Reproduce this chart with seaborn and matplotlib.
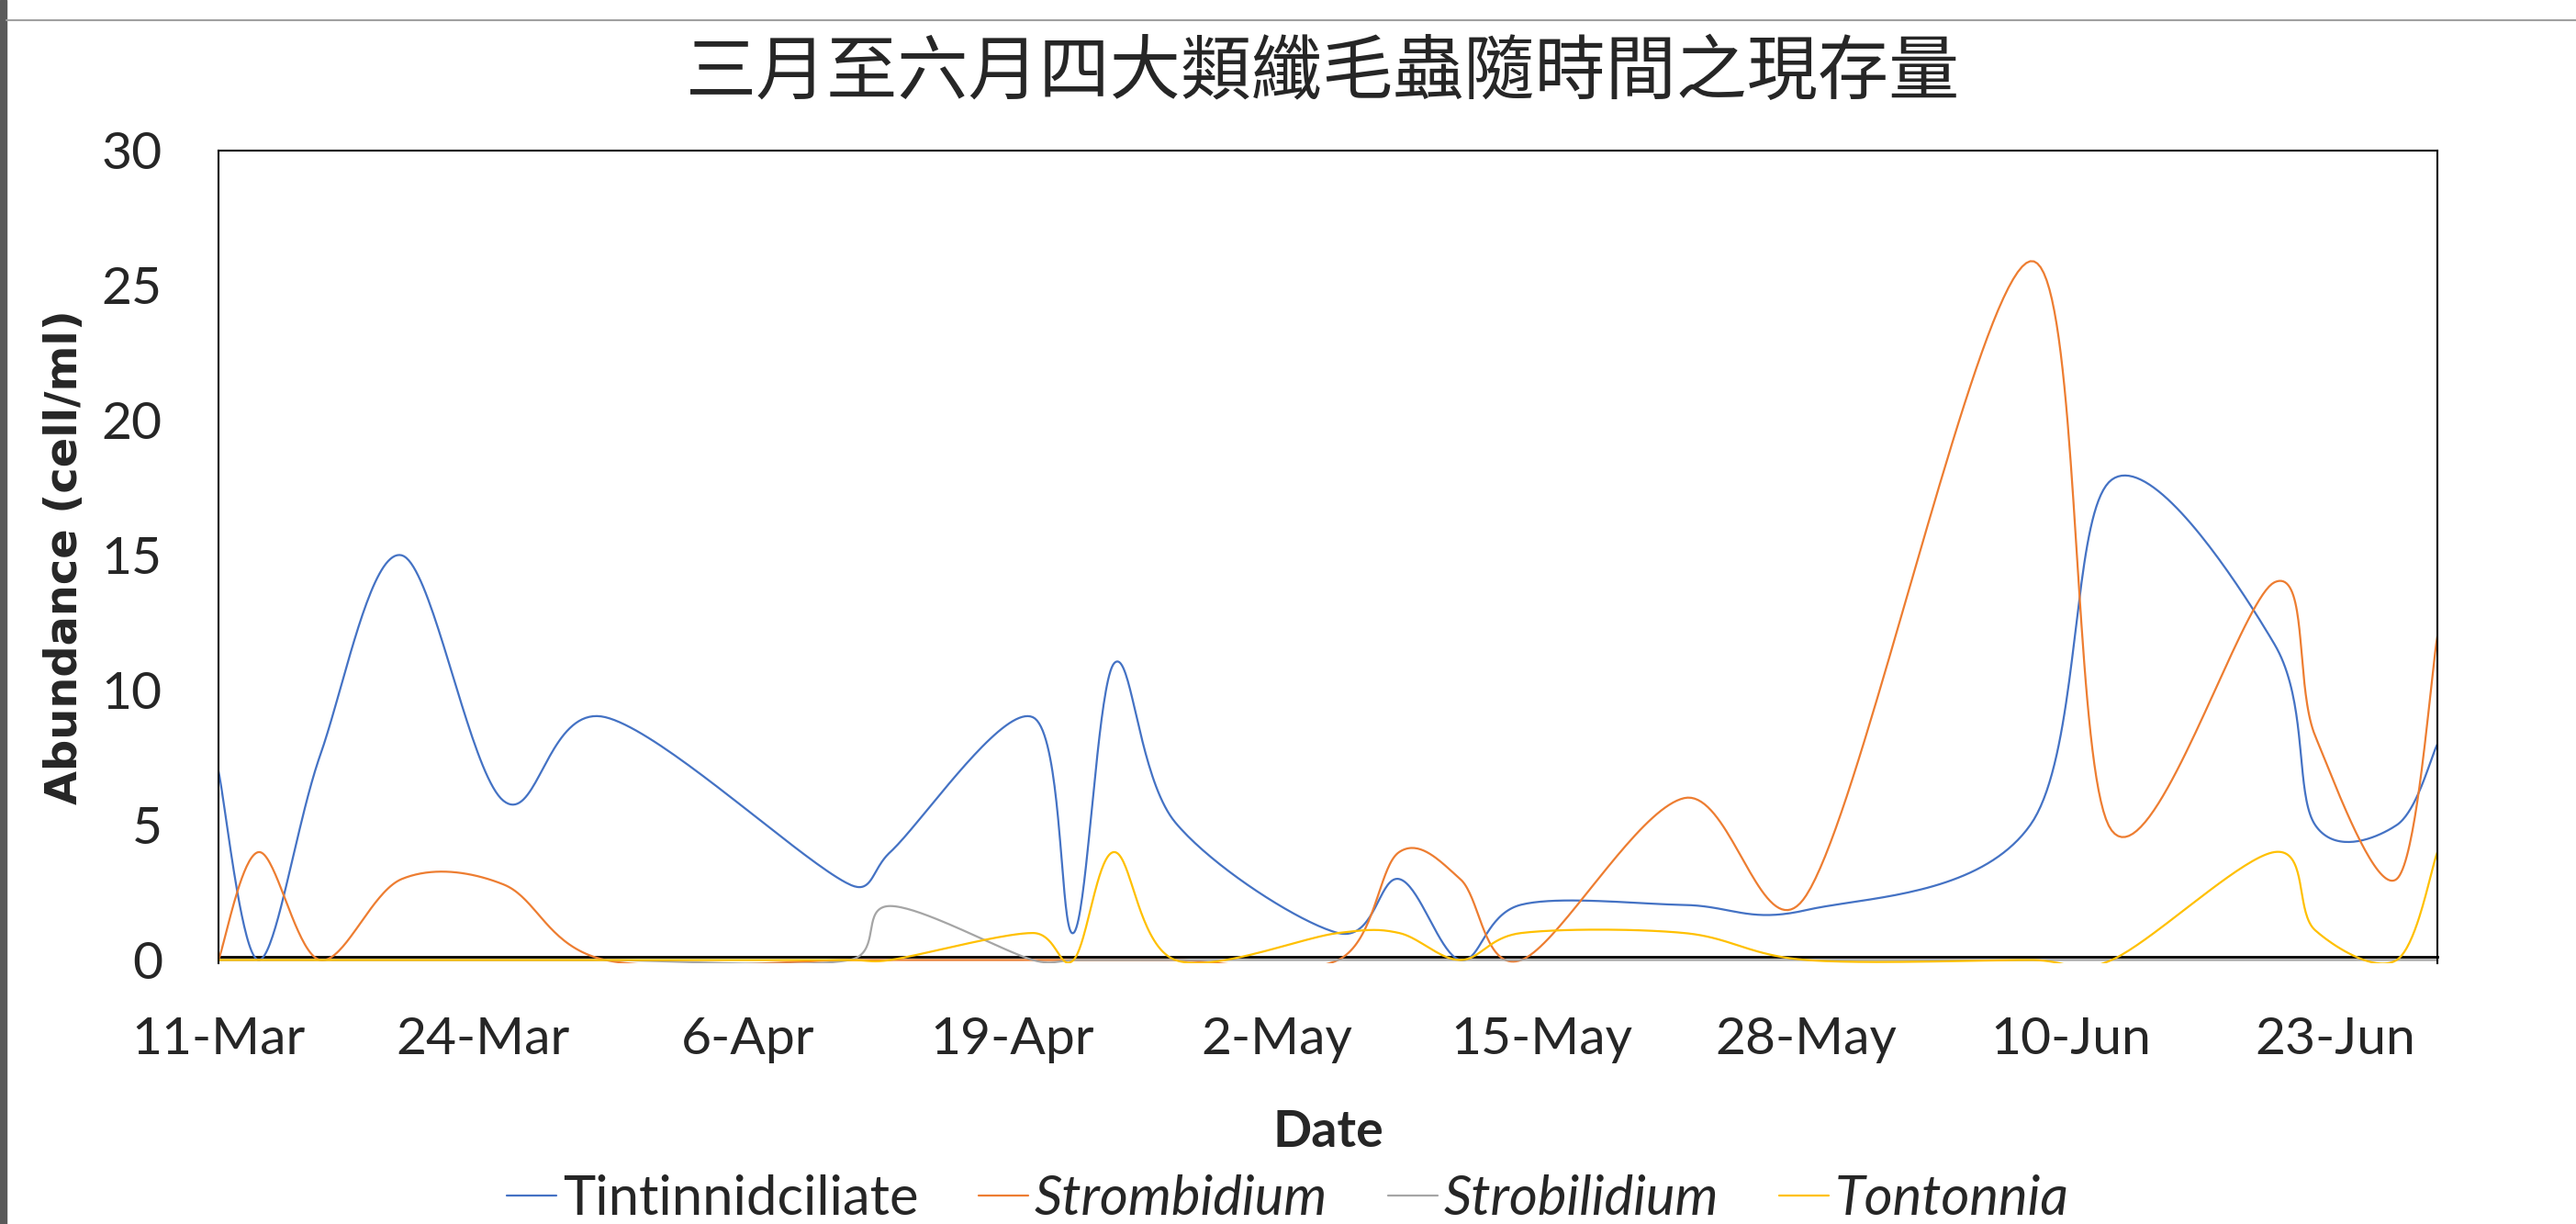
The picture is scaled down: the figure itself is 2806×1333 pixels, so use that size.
import numpy as np
import pandas as pd
import matplotlib
matplotlib.use('Agg')
import matplotlib.pyplot as plt
import matplotlib.dates as mdates
import seaborn as sns

# sampling dates and abundances (cell/ml)
dates = ['2020-03-11', '2020-03-13', '2020-03-16', '2020-03-20', '2020-03-25', '2020-03-30',
         '2020-04-11', '2020-04-13', '2020-04-20', '2020-04-22', '2020-04-24', '2020-04-27',
         '2020-05-05', '2020-05-08', '2020-05-11', '2020-05-14', '2020-05-22', '2020-05-28',
         '2020-06-08', '2020-06-12', '2020-06-20', '2020-06-22', '2020-06-26', '2020-06-28']
tintinnid = [7, 0, 7.6, 15, 5.9, 9, 2.8, 4, 9, 1, 11, 5.1,
             1, 3, 0, 2.05, 2.04, 1.85, 5, 17.8, 11.7, 5, 5, 8]
strombidium = [0, 4, 0, 3, 2.8, 0, 0, 0, 0, 0, 0, 0,
               0, 4, 3, 0, 6, 2.4, 25.9, 4.8, 14, 8.3, 3, 12]
strobilidium = [0, 0, 0, 0, 0, 0, 0, 2, 0, 0, 0, 0,
                0, 0, 0, 0, 0, 0, 0, 0, 0, 0, 0, 0]
tontonnia = [0, 0, 0, 0, 0, 0, 0, 0, 1, 0, 4, 0,
             1, 1, 0, 1, 1, 0, 0, 0, 4, 1.1, 0, 4]

series_names = ['Tintinnidciliate', 'Strombidium', 'Strobilidium', 'Tontonnia']
colors = ['#4472C4', '#ED7D31', '#A5A5A5', '#FFC000']
tick_dates = ['2020-03-11', '2020-03-24', '2020-04-06', '2020-04-19', '2020-05-02',
              '2020-05-15', '2020-05-28', '2020-06-10', '2020-06-23']
title = '三月至六月四大類纖毛蟲隨時間之現存量'

# screen scale (px per day, px per cell/ml) used for Excel-like smoothing
SX, SY = 22.17, 29.3


def excel_smooth(x, y, steps=40):
    # Bezier smoothing like Excel's "smoothed line", tangents limited on short segments
    p = np.column_stack([np.asarray(x, float) * SX, np.asarray(y, float) * SY])
    n = len(p)
    tang = []
    for i in range(n):
        tang.append((p[min(i + 1, n - 1)] - p[max(i - 1, 0)]) / 6)
    out = []
    for i in range(n - 1):
        p1, p2 = p[i], p[i + 1]
        seg = np.hypot(*(p2 - p1))
        t1, t2 = tang[i], tang[i + 1]
        l1, l2 = np.hypot(*t1), np.hypot(*t2)
        s1 = min(1, 0.5 * seg / l1) if l1 > 0 else 1
        s2 = min(1, 0.5 * seg / l2) if l2 > 0 else 1
        c1 = p1 + t1 * s1
        c2 = p2 - t2 * s2
        t = np.linspace(0, 1, steps, endpoint=(i == n - 2))[:, None]
        out.append(((1 - t) ** 3) * p1 + 3 * ((1 - t) ** 2) * t * c1
                   + 3 * (1 - t) * t ** 2 * c2 + t ** 3 * p2)
    out = np.vstack(out)
    return out[:, 0] / SX, out[:, 1] / SY


d = pd.to_datetime(dates)
start = d[0]
days = (d - start).days.values

frames = []
for name, vals in zip(series_names, [tintinnid, strombidium, strobilidium, tontonnia]):
    cx, cy = excel_smooth(days, vals)
    frames.append(pd.DataFrame({
        'Date': start + pd.to_timedelta(cx, unit='D'),
        'Abundance': cy,
        'Series': name,
    }))
df = pd.concat(frames, ignore_index=True)

sns.set_style('white')
plt.rcParams['font.family'] = ['Lato', 'Noto Sans CJK TC', 'DejaVu Sans']

fig = plt.figure(figsize=(28.06, 13.33), dpi=100)
ax = fig.add_axes([238 / 2806, 1 - 1049 / 1333, (2655 - 238) / 2806, (1049 - 164) / 1333])

sns.lineplot(data=df, x='Date', y='Abundance', hue='Series', hue_order=series_names,
             palette=colors, sort=False, estimator=None, linewidth=1.6, legend=False, ax=ax)

ax.set_ylim(-0.12, 30)
ax.set_xlim(start, pd.Timestamp('2020-06-28'))
ax.set_yticks(range(0, 31, 5))
ax.set_xticks(pd.to_datetime(tick_dates))
ax.xaxis.set_major_formatter(mdates.DateFormatter('%-d-%b'))
ax.tick_params(axis='both', length=0, labelsize=41)
ax.tick_params(axis='y', pad=44)
ax.tick_params(axis='x', pad=47)

for s in ax.spines.values():
    s.set_color('black')
    s.set_linewidth(1.5)
ax.spines['bottom'].set_position(('data', 0.12))
ax.spines['bottom'].set_linewidth(2)
ax.spines['bottom'].set_zorder(1)

ax.set_xlabel('Date', fontsize=40, fontweight='bold', labelpad=36)
ax.set_ylabel('Abundance (cell/ml)', fontsize=34.5, fontweight='bold',
              family='DejaVu Sans', labelpad=12)

fig.text(0.5135, 1 - 80 / 1333, title, ha='center', va='center', fontsize=55.5,
         fontweight='light', family=['Noto Sans CJK TC', 'DejaVu Sans'])

handles = ax.get_lines()[:4]
leg = fig.legend(handles, series_names, loc='center', bbox_to_anchor=(0.5, 1 - 1306 / 1333),
                 ncol=4, frameon=False, fontsize=43, handlelength=0.9, handletextpad=0.12,
                 columnspacing=1.1)
for i, txt in enumerate(leg.get_texts()):
    if i > 0:
        txt.set_fontstyle('italic')

# screenshot frame details
fig.patches.append(plt.Rectangle((0, 0), 7 / 2806, 1, transform=fig.transFigure,
                                 color='#5a5a5a', zorder=0))
fig.lines.append(plt.Line2D([7 / 2806, 1], [1 - 22 / 1333] * 2, transform=fig.transFigure,
                            color='#a0a0a0', linewidth=1.5))

fig.savefig('out.png', dpi=100)
